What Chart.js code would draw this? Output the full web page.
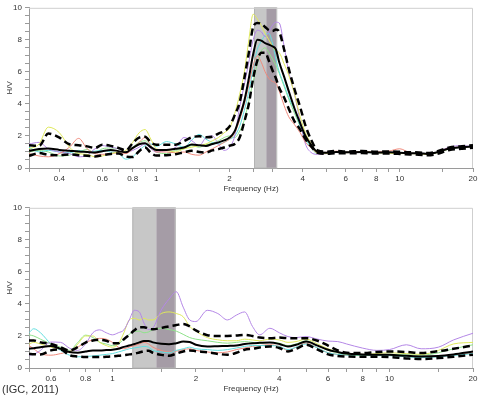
<!DOCTYPE html>
<html>
<head>
<meta charset="utf-8">
<script src="https://cdn.jsdelivr.net/npm/chart.js@4.4.0/dist/chart.umd.min.js"></script>
<style>
  html, body { margin: 0; padding: 0; background: #fff; }
  #wrap { position: relative; width: 480px; height: 400px; }
  .box { position: absolute; left: 0; width: 480px; height: 198px; }
  #top-box { top: 0; }
  #bottom-box { top: 200px; }
  #source { position: absolute; left: 2px; top: 383px; font: 11px "Liberation Sans", Arial, sans-serif; color: #333; }
</style>
</head>
<body>
<div id="wrap">
  <div class="box" id="top-box"><canvas id="hv-top" width="480" height="198"></canvas></div>
  <div class="box" id="bottom-box"><canvas id="hv-bottom" width="480" height="198"></canvas></div>
  <div id="source">(IGC, 2011)</div>
</div>
<script>
// upper station: frequency (Hz) and H/V curves
const topFreq = [
  0.3, 0.33, 0.36, 0.4, 0.44, 0.48, 0.52, 0.56, 0.6, 0.65,
  0.7, 0.75, 0.8, 0.85, 0.9, 0.95, 1.0, 1.1, 1.2, 1.3,
  1.4, 1.5, 1.6, 1.7, 1.8, 1.9, 2.0, 2.1, 2.2, 2.3,
  2.4, 2.5, 2.6, 2.7, 2.8, 2.9, 3.0, 3.1, 3.2, 3.35,
  3.5, 3.7, 3.9, 4.1, 4.3, 4.6, 5, 5.5, 6, 7,
  8, 9, 10, 11, 12, 13, 14, 16, 18, 20];
const topMean = [
  1.07, 1.18, 1.21, 1.13, 1.08, 1.03, 1.00, 0.97, 1.05, 1.13,
  1.05, 0.98, 1.25, 1.48, 1.55, 1.30, 1.12, 1.12, 1.20, 1.28,
  1.46, 1.42, 1.38, 1.50, 1.60, 1.72, 1.90, 2.30, 3.20, 4.20,
  5.60, 7.10, 8.00, 7.95, 7.80, 7.70, 7.60, 7.40, 6.60, 5.70,
  4.80, 3.70, 2.80, 2.00, 1.50, 1.00, 0.95, 1.00, 0.98, 1.00,
  0.97, 0.98, 0.95, 0.92, 0.92, 0.88, 0.95, 1.22, 1.30, 1.35];
const topUpper = [
  1.42, 1.38, 2.15, 1.90, 1.48, 1.42, 1.35, 1.25, 1.45, 1.38,
  1.25, 1.10, 1.55, 1.90, 1.95, 1.60, 1.45, 1.45, 1.45, 1.68,
  1.92, 1.98, 1.92, 1.95, 2.15, 2.30, 2.60, 3.30, 4.10, 5.60,
  7.20, 8.80, 9.05, 9.00, 8.80, 8.60, 8.55, 8.65, 8.50, 7.40,
  6.20, 4.90, 3.80, 2.65, 1.85, 1.10, 1.02, 1.06, 1.03, 1.06,
  1.02, 1.03, 1.01, 0.98, 0.97, 0.93, 1.00, 1.28, 1.36, 1.42];
const topLower = [
  0.76, 0.93, 0.82, 0.80, 0.85, 0.80, 0.76, 0.72, 0.80, 0.88,
  0.90, 0.72, 0.68, 1.05, 1.28, 0.95, 0.78, 0.80, 0.86, 0.98,
  1.07, 1.00, 0.97, 1.10, 1.18, 1.28, 1.40, 1.50, 1.90, 2.90,
  4.00, 5.60, 6.70, 7.20, 7.20, 6.70, 6.10, 5.60, 5.00, 4.40,
  3.70, 2.90, 2.40, 1.80, 1.40, 0.95, 0.88, 0.92, 0.92, 0.93,
  0.90, 0.90, 0.88, 0.85, 0.83, 0.80, 0.85, 1.12, 1.20, 1.26];
const topYellow = [
  1.20, 1.50, 2.55, 2.20, 1.30, 0.90, 0.85, 0.70, 0.75, 0.90,
  1.00, 1.10, 1.60, 2.20, 2.40, 1.80, 1.20, 1.10, 1.00, 1.20,
  1.30, 1.40, 1.50, 1.70, 1.90, 2.20, 2.50, 3.40, 4.60, 6.00,
  8.00, 9.60, 9.30, 8.90, 8.40, 8.00, 7.60, 7.30, 7.20, 6.50,
  5.80, 4.60, 3.20, 2.20, 1.60, 0.90, 0.90, 1.00, 0.95, 1.00,
  0.95, 0.92, 0.90, 0.90, 0.88, 0.85, 0.92, 1.20, 1.30, 1.35];
const topSalmon = [
  0.90, 0.75, 0.70, 0.90, 1.30, 1.85, 1.20, 0.90, 0.85, 0.90,
  0.95, 0.90, 1.20, 1.60, 1.90, 1.40, 1.00, 1.00, 0.95, 1.00,
  0.85, 0.80, 1.00, 1.20, 1.40, 1.60, 1.80, 2.20, 3.00, 4.00,
  5.20, 6.40, 7.00, 6.60, 6.00, 5.60, 5.40, 5.30, 4.80, 3.90,
  3.20, 2.70, 2.20, 1.60, 1.30, 0.95, 0.98, 1.05, 1.00, 1.02,
  1.00, 1.05, 1.20, 0.95, 0.90, 0.88, 0.95, 1.25, 1.30, 1.35];
const topPurple = [
  1.50, 1.60, 1.20, 1.00, 0.90, 0.70, 0.80, 1.20, 1.40, 1.30,
  1.20, 1.00, 1.10, 1.30, 1.50, 1.20, 1.00, 1.10, 1.30, 1.90,
  1.70, 1.40, 1.90, 2.00, 1.50, 1.10, 1.30, 2.00, 3.80, 5.20,
  6.60, 8.00, 8.60, 8.50, 8.20, 8.50, 8.90, 9.10, 9.05, 7.60,
  6.00, 4.60, 2.90, 1.50, 1.00, 0.85, 0.90, 0.98, 0.95, 1.00,
  0.95, 0.95, 0.92, 0.90, 0.90, 0.85, 0.95, 1.30, 1.40, 1.32];
const topCyan = [
  1.30, 1.00, 1.10, 1.00, 0.95, 1.10, 1.00, 1.05, 1.10, 1.00,
  0.90, 0.55, 0.70, 1.10, 1.40, 1.50, 1.35, 1.65, 1.50, 1.30,
  1.75, 2.10, 1.80, 1.60, 1.50, 1.60, 1.80, 2.00, 2.60, 3.60,
  4.80, 6.20, 7.40, 7.90, 8.30, 8.40, 7.80, 6.80, 6.00, 5.20,
  4.40, 3.60, 2.60, 1.80, 1.30, 0.90, 0.95, 1.00, 1.00, 0.98,
  0.95, 0.98, 0.95, 0.92, 0.90, 0.86, 0.93, 1.20, 1.30, 1.38];
const topGreen = [
  1.00, 1.10, 1.00, 0.75, 0.80, 1.00, 1.15, 0.95, 1.20, 1.25,
  1.20, 1.00, 1.30, 1.60, 1.70, 1.40, 1.00, 0.90, 1.10, 1.20,
  1.40, 1.30, 1.45, 1.55, 1.70, 1.90, 2.00, 1.90, 2.30, 3.00,
  4.20, 5.40, 6.50, 7.30, 7.50, 7.20, 6.80, 6.40, 5.90, 5.10,
  4.30, 3.40, 2.60, 1.90, 1.40, 1.00, 0.95, 1.02, 1.00, 1.00,
  0.97, 0.97, 0.96, 0.93, 0.90, 0.87, 0.95, 1.22, 1.32, 1.36];

// lower station
const botFreq = [
  0.5, 0.52, 0.55, 0.6, 0.65, 0.7, 0.75, 0.8, 0.85, 0.9,
  0.95, 1.0, 1.05, 1.1, 1.15, 1.2, 1.25, 1.3, 1.35, 1.4,
  1.5, 1.6, 1.7, 1.8, 1.9, 2.0, 2.2, 2.4, 2.6, 2.8,
  3.0, 3.2, 3.4, 3.7, 4.0, 4.3, 4.6, 5.0, 5.5, 6.0,
  6.5, 7, 8, 9, 10, 11.5, 13, 15, 17, 20];
const botMean = [
  1.20, 1.24, 1.30, 1.38, 1.20, 1.00, 0.95, 1.03, 1.09, 1.10,
  1.12, 1.14, 1.20, 1.32, 1.40, 1.50, 1.60, 1.68, 1.69, 1.60,
  1.51, 1.48, 1.55, 1.65, 1.62, 1.45, 1.34, 1.36, 1.38, 1.40,
  1.50, 1.55, 1.57, 1.59, 1.50, 1.34, 1.45, 1.65, 1.40, 1.14,
  1.00, 0.90, 0.85, 0.83, 0.82, 0.76, 0.72, 0.75, 0.85, 1.03];
const botUpper = [
  1.71, 1.72, 1.60, 1.50, 1.30, 1.10, 1.30, 1.59, 1.72, 1.76,
  1.70, 1.55, 1.55, 1.80, 2.07, 2.35, 2.55, 2.55, 2.45, 2.42,
  2.50, 2.60, 2.68, 2.75, 2.60, 2.35, 2.05, 2.00, 2.00, 2.03,
  2.07, 2.00, 1.90, 1.86, 1.90, 1.86, 1.85, 1.86, 1.70, 1.40,
  1.10, 0.95, 0.93, 1.00, 1.03, 1.00, 0.93, 1.05, 1.20, 1.40];
const botLower = [
  0.88, 0.86, 0.84, 1.10, 1.15, 0.80, 0.72, 0.68, 0.68, 0.68,
  0.70, 0.72, 0.76, 0.80, 0.85, 0.89, 0.97, 1.05, 1.08, 0.95,
  0.82, 0.76, 0.90, 1.03, 1.10, 1.05, 0.98, 0.88, 0.83, 0.95,
  1.14, 1.20, 1.28, 1.34, 1.25, 1.03, 1.20, 1.45, 1.15, 0.85,
  0.75, 0.72, 0.70, 0.70, 0.68, 0.60, 0.56, 0.62, 0.70, 0.83];
const botPurple = [
  0.80, 0.85, 1.10, 1.62, 1.60, 1.24, 1.10, 1.50, 2.20, 2.38,
  2.20, 2.07, 2.20, 2.38, 3.00, 3.60, 3.50, 2.80, 2.40, 2.50,
  3.62, 4.30, 4.76, 3.80, 3.00, 2.90, 3.60, 3.40, 3.00, 3.30,
  3.50, 2.60, 2.07, 2.48, 2.20, 1.96, 1.90, 1.96, 1.80, 1.68,
  1.65, 1.50, 1.24, 1.10, 1.15, 1.45, 1.20, 1.30, 1.75, 2.17];
const botYellow = [
  1.50, 1.60, 1.50, 1.30, 1.20, 1.00, 1.50, 2.00, 2.00, 1.60,
  1.40, 1.30, 1.50, 2.20, 3.00, 3.10, 3.00, 3.10, 3.00, 3.00,
  3.40, 3.50, 3.40, 3.20, 2.60, 2.30, 1.90, 1.76, 1.70, 1.70,
  1.80, 1.75, 1.70, 1.80, 1.75, 1.60, 1.65, 1.80, 1.50, 1.20,
  1.00, 0.90, 0.85, 0.90, 0.95, 0.90, 0.85, 1.10, 1.50, 1.60];
const botGreen = [
  2.07, 2.00, 1.80, 1.50, 1.30, 1.10, 1.60, 2.05, 1.90, 1.60,
  1.50, 1.40, 1.50, 1.80, 2.10, 2.28, 2.30, 2.20, 2.25, 2.40,
  2.48, 2.40, 2.30, 2.10, 1.90, 1.80, 1.70, 1.60, 1.55, 1.60,
  1.65, 1.60, 1.55, 1.60, 1.55, 1.40, 1.50, 1.70, 1.40, 1.10,
  0.95, 0.85, 0.80, 0.82, 0.85, 0.82, 0.80, 0.95, 1.20, 1.45];
const botCyan = [
  2.20, 2.45, 2.20, 1.50, 1.10, 0.80, 0.70, 0.72, 0.75, 0.80,
  0.85, 0.90, 1.00, 1.10, 1.20, 1.25, 1.30, 1.35, 1.30, 1.10,
  1.00, 0.95, 1.10, 1.20, 1.30, 1.20, 1.15, 1.10, 1.15, 1.25,
  1.35, 1.40, 1.40, 1.40, 1.35, 1.15, 1.30, 1.50, 1.25, 0.95,
  0.85, 0.80, 0.78, 0.77, 0.77, 0.70, 0.65, 0.70, 0.78, 0.90];
const botSalmon = [
  1.40, 1.20, 0.90, 0.80, 0.90, 1.05, 1.30, 1.60, 1.75, 1.85,
  1.80, 1.60, 1.30, 1.20, 1.30, 1.40, 1.50, 1.60, 1.50, 1.30,
  1.10, 1.00, 1.05, 1.15, 1.20, 1.10, 1.00, 0.95, 1.00, 1.15,
  1.25, 1.35, 1.40, 1.45, 1.35, 1.10, 1.30, 1.55, 1.25, 0.95,
  0.85, 0.80, 0.78, 0.78, 0.80, 0.75, 0.70, 0.72, 0.80, 0.95];

// shaded frequency bands: [start, split, end]
const topBands = [2.52, 2.83, 3.11];
const botBands = [1.18, 1.44, 1.68];

// x tick marks and which of them carry a label
const topXTicks = [0.3, 0.4, 0.5, 0.6, 0.7, 0.8, 0.9, 1, 1.5, 2, 2.5, 3, 4, 5, 6, 7, 8, 9, 10, 15, 20];
const topXLabels = [0.4, 0.6, 0.8, 1, 2, 4, 6, 8, 10, 20];
const botXTicks = [0.5, 0.6, 0.7, 0.8, 0.9, 1, 1.5, 2, 2.5, 3, 4, 5, 6, 7, 8, 9, 10, 15, 20];
const botXLabels = [0.6, 0.8, 1, 2, 4, 6, 8, 10, 20];
const yLabels = [0, 2, 4, 6, 8, 10];

const tickFont = { family: "'Liberation Sans', Arial, sans-serif", size: 8 };
const textColor = '#333';

function series(freq, values, color, width, dash) {
    return {
        data: freq.map((f, i) => ({ x: f, y: values[i] })),
        borderColor: color,
        borderWidth: width,
        borderDash: dash || [],
        pointRadius: 0,
        fill: false,
        cubicInterpolationMode: 'monotone'
    };
}

// draws the shaded bands under the curves and the light frame round the plot
function bandPlugin(bands) {
    return {
        id: 'bands',
        beforeDatasetsDraw(chart) {
            const { ctx, chartArea: a, scales: { x } } = chart;
            const p0 = x.getPixelForValue(bands[0]);
            const p1 = x.getPixelForValue(bands[1]);
            const p2 = x.getPixelForValue(bands[2]);
            ctx.save();
            ctx.fillStyle = '#c7c7c7';
            ctx.fillRect(p0, a.top, p1 - p0, a.bottom - a.top);
            ctx.fillStyle = '#a59ca6';
            ctx.fillRect(p1, a.top, p2 - p1, a.bottom - a.top);
            ctx.strokeStyle = '#b4b4b4';
            ctx.lineWidth = 1;
            ctx.strokeRect(p0 + 0.5, a.top, p2 - p0, a.bottom - a.top);
            ctx.strokeStyle = '#cfcfcf';
            ctx.beginPath();
            ctx.moveTo(a.left, a.top + 0.5);
            ctx.lineTo(a.right - 0.5, a.top + 0.5);
            ctx.lineTo(a.right - 0.5, a.bottom);
            ctx.stroke();
            ctx.restore();
        }
    };
}

function makeChart(canvas, freq, lines, xMin, xTicks, xLabels, bands) {
    return new Chart(canvas, {
        type: 'line',
        data: { datasets: lines.map(l => series(freq, l[0], l[1], l[2], l[3])) },
        options: {
            responsive: false,
            animation: false,
            layout: { padding: { top: 7, right: 7, left: 0, bottom: 0 } },
            plugins: { legend: { display: false }, tooltip: { enabled: false } },
            scales: {
                x: {
                    type: 'logarithmic',
                    min: xMin,
                    max: 20,
                    afterBuildTicks: s => { s.ticks = xTicks.map(v => ({ value: v })); },
                    afterFit: s => { s.height = 30; },
                    ticks: {
                        autoSkip: false,
                        maxRotation: 0,
                        padding: 2,
                        font: tickFont,
                        color: textColor,
                        callback: v => xLabels.includes(v) ? String(v) : ''
                    },
                    grid: { drawOnChartArea: false, tickLength: 4, color: '#9a9a9a' },
                    border: { color: '#9a9a9a' },
                    title: {
                        display: true,
                        text: 'Frequency (Hz)',
                        font: tickFont,
                        color: textColor,
                        padding: { top: 0, bottom: 4 }
                    }
                },
                y: {
                    min: 0,
                    max: 10,
                    afterFit: s => { s.width = 29; },
                    ticks: {
                        stepSize: 0.5,
                        autoSkip: false,
                        padding: 3,
                        font: tickFont,
                        color: textColor,
                        callback: v => yLabels.includes(v) ? String(v) : ''
                    },
                    grid: { drawOnChartArea: false, tickLength: 4, color: '#9a9a9a' },
                    border: { color: '#9a9a9a' },
                    title: {
                        display: true,
                        text: 'H/V',
                        font: tickFont,
                        color: textColor,
                        padding: { top: 5, bottom: 0 }
                    }
                }
            }
        },
        plugins: [bandPlugin(bands)]
    });
}

function run() {
    const dash = [7, 4];
    makeChart(document.getElementById('hv-top'), topFreq, [
        [topMean, '#000', 2],
        [topUpper, '#000', 2.5, dash],
        [topLower, '#000', 2.5, dash],
        [topYellow, '#dfe85c', 1],
        [topSalmon, '#ef8a7c', 1],
        [topPurple, '#b487e6', 1],
        [topCyan, '#62dede', 1],
        [topGreen, '#8ee28a', 1]
    ], 0.3, topXTicks, topXLabels, topBands);

    makeChart(document.getElementById('hv-bottom'), botFreq, [
        [botMean, '#000', 2],
        [botUpper, '#000', 2.5, dash],
        [botLower, '#000', 2.5, dash],
        [botPurple, '#b487e6', 1],
        [botYellow, '#dfe85c', 1],
        [botGreen, '#8ee28a', 1],
        [botCyan, '#62dede', 1],
        [botSalmon, '#ef8a7c', 1]
    ], 0.5, botXTicks, botXLabels, botBands);
}

document.addEventListener('DOMContentLoaded', run);
</script>
</body>
</html>
